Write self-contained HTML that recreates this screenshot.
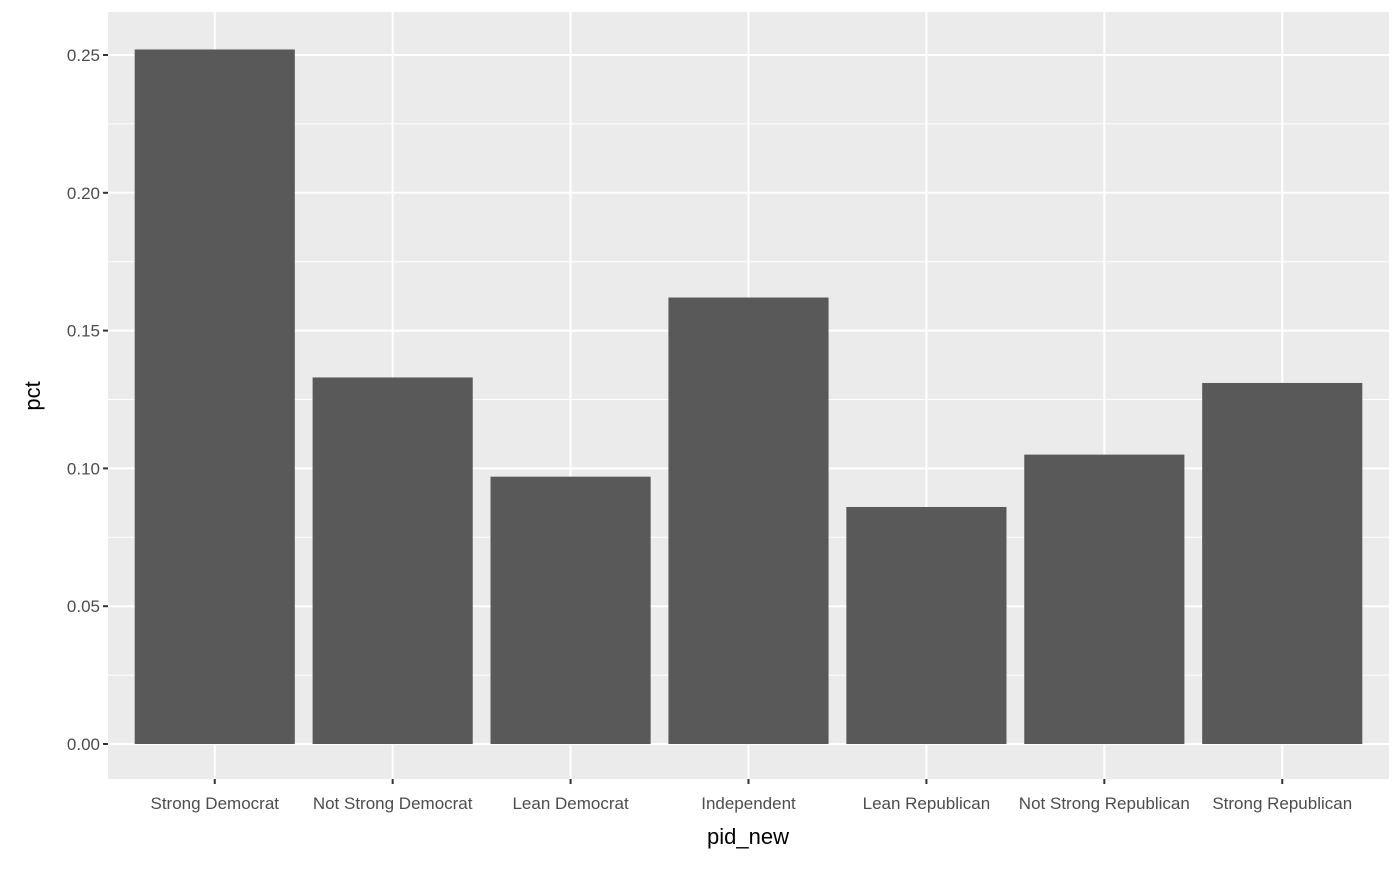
<!DOCTYPE html>
<html><head><meta charset="utf-8"><style>
body{margin:0;background:#fff;font-family:"Liberation Sans",Arial,sans-serif}
</style></head><body>
<svg id="chart" width="1400" height="866" xmlns="http://www.w3.org/2000/svg">
<rect x="0" y="0" width="1400" height="866" fill="#fff"/>
<rect x="108" y="12" width="1281" height="767" fill="#ebebeb"/>
<g id="grid"></g><g id="bars"></g><g id="axes"></g>
<text x="748" y="844" text-anchor="middle" font-size="22" fill="#000">pid_new</text>
<text transform="translate(40,396) rotate(-90)" text-anchor="middle" font-size="22" fill="#000">pct</text>
</svg>
<script>
const categories=["Strong Democrat","Not Strong Democrat","Lean Democrat","Independent","Lean Republican","Not Strong Republican","Strong Republican"];
const values=[0.252,0.133,0.097,0.162,0.086,0.105,0.131];
const yTicks=[0,0.05,0.10,0.15,0.20,0.25];
const yTickLabels=["0.00","0.05","0.10","0.15","0.20","0.25"];
const NS="http://www.w3.org/2000/svg";
const px0=108,px1=1389,py0=12,py1=779;
const y0=744,yTop=55,vTop=0.25;
function y(v){return y0-(y0-yTop)*v/vTop;}
const step=(px1-px0)/(categories.length+0.2);
function x(i){return px0+step*0.6+step*i;}
const bw=step*0.9;
function mk(tag,attrs,parent){const e=document.createElementNS(NS,tag);for(const k in attrs)e.setAttribute(k,attrs[k]);parent.appendChild(e);return e;}
const grid=document.getElementById('grid'),bars=document.getElementById('bars'),axes=document.getElementById('axes');
for(let i=0;i<yTicks.length-1;i++){const m=(yTicks[i]+yTicks[i+1])/2;const l=mk('line',{x1:px0,x2:px1,y1:y(m),y2:y(m),stroke:'#fff','stroke-width':1},grid);

}
{const m=yTicks[yTicks.length-1]+0.025;if(y(m)>py0){const l=mk('line',{x1:px0,x2:px1,y1:y(m),y2:y(m),stroke:'#fff','stroke-width':1},grid);

}}
yTicks.forEach((t,i)=>{const l=mk('line',{x1:px0,x2:px1,y1:y(t),y2:y(t),stroke:'#fff','stroke-width':2},grid);


const tk=mk('line',{x1:px0-5,x2:px0,y1:y(t),y2:y(t),stroke:'#333','stroke-width':2},axes);


const tx=mk('text',{x:px0-8,y:y(t)+6,'text-anchor':'end','font-size':17,fill:'#4d4d4d'},axes);
tx.textContent=yTickLabels[i];

});
categories.forEach((c,i)=>{const cx=x(i);
const g=mk('line',{x1:cx,x2:cx,y1:py0,y2:py1,stroke:'#fff','stroke-width':2},grid);


const r=mk('rect',{x:cx-bw/2,y:y(values[i]),width:bw,height:y(0)-y(values[i]),fill:'#595959'},bars);


const tk=mk('line',{x1:cx,x2:cx,y1:py1,y2:py1+5,stroke:'#333','stroke-width':2},axes);


const tx=mk('text',{x:cx,y:809,'text-anchor':'middle','font-size':17,fill:'#4d4d4d'},axes);
tx.textContent=c;

});
</script>
</body></html>
